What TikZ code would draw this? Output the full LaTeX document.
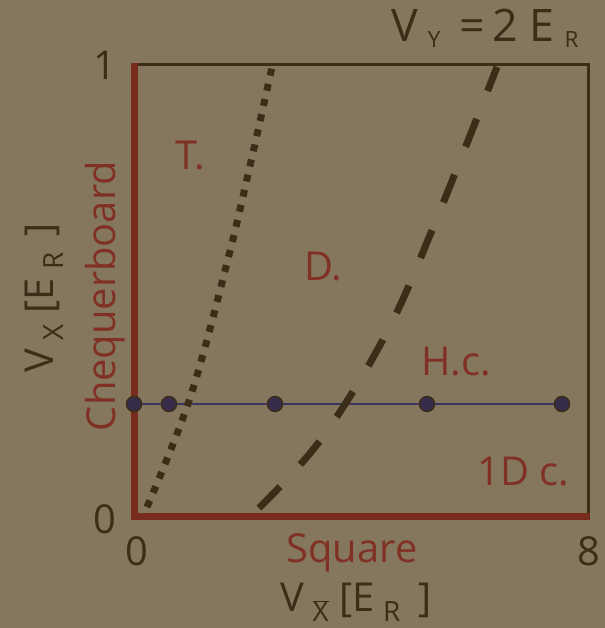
\documentclass[tikz,border=0pt]{standalone}
\usepackage{fontspec}
\setmainfont{Open Sans}
\usepackage{graphicx}
\definecolor{bgcol}{RGB}{133,119,94}
\definecolor{redcol}{RGB}{120,44,30}
\definecolor{redtxt}{RGB}{128,48,36}
\definecolor{darkcol}{RGB}{58,46,24}
\definecolor{dotfill}{RGB}{55,45,75}
\definecolor{linecol}{RGB}{62,52,100}
\newcommand{\subs}[1]{\kern0.22em\raisebox{-0.27em}{\scalebox{0.7}{#1}}}
\newcommand{\subt}[1]{\kern0.22em\raisebox{-0.13em}{\scalebox{0.5}{#1}}}
\begin{document}
\begin{tikzpicture}[x=1bp,y=-1bp,
  lab/.style={inner sep=0pt, font=\fontsize{40}{46}\selectfont},
  redlab/.style={lab, text=redtxt},
  darklab/.style={lab, text=darkcol},
  dotnode/.style={circle, draw=darkcol, line width=1.5bp, fill=dotfill, minimum size=15bp, inner sep=0pt},
  dotcurve/.style={darkcol, line width=7bp, dash pattern=on 7bp off 8.5bp},
  dashcurve/.style={darkcol, line width=7bp, dash pattern=on 30bp off 30bp}
]
\fill[bgcol] (0,0) rectangle (605,628);
\useasboundingbox (0,0) rectangle (605,628);
% frame
\coordinate (tl) at (134,63);
\coordinate (tr) at (588,65);
\coordinate (br) at (588,516);
\coordinate (bl) at (134,516);
\coordinate (brr) at (590,516);
\draw[darkcol, line width=3bp] (134,65) -- (tr) -- (br);
\draw[redcol, line width=7bp] (tl) -- (bl) -- (brr);
% horizontal line
\coordinate (p1) at (134,404);
\coordinate (p2) at (169,404);
\coordinate (p3) at (275,404);
\coordinate (p4) at (427,404);
\coordinate (p5) at (562,404);
\draw[linecol, line width=2bp] (p1) -- (p5);
% curves
\draw[dotcurve] plot[smooth, tension=0.6] coordinates {(147,507) (190,398) (227,263) (252,157) (272,67)};
\draw[dashcurve] plot[smooth, tension=0.6] coordinates {(259,508) (322,438) (387,332) (437,218) (497,67)};
% dots
\node[dotnode] (d1) at (p1) {};
\node[dotnode] (d2) at (p2) {};
\node[dotnode] (d3) at (p3) {};
\node[dotnode] (d4) at (p4) {};
\node[dotnode] (d5) at (p5) {};
% tick labels
\node[darklab, anchor=base east] (t1) at (116,80) {1};
\node[darklab, anchor=base east] (t0) at (116,533) {0};
\node[darklab, anchor=base] (x0) at (137,565) {0};
\node[darklab, anchor=base] (x8) at (589,565) {8};
% region labels
\node[redlab, anchor=base west] (lT) at (175,170) {T.};
\node[redlab, anchor=base west] (lD) at (304,280) {D.};
\node[redlab, anchor=base west] (lH) at (421,375) {H.c.};
\node[redlab, anchor=base west] (l1) at (477,485) {1D c.};
\node[redlab, anchor=base] (lsq) at (352,562) {Square};
\node[redlab, anchor=base, rotate=90] (lch) at (115,296) {Chequerboard};
% axis labels
\node[darklab, anchor=base west] (ax) at (280,611) {V\subs{$\overline{\mbox{X}}$}\ [E\subs{R}\kern0.45em]};
\node[darklab, anchor=base west, rotate=90] (ay) at (53,373) {V\subs{X}\ [E\subs{R}\kern0.4em]};
\node[darklab, anchor=base west, font=\fontsize{45}{50}\selectfont] (top) at (391,42) {V\subt{Y}\ \,=\,2\ E\subt{R}};
\end{tikzpicture}
\end{document}
